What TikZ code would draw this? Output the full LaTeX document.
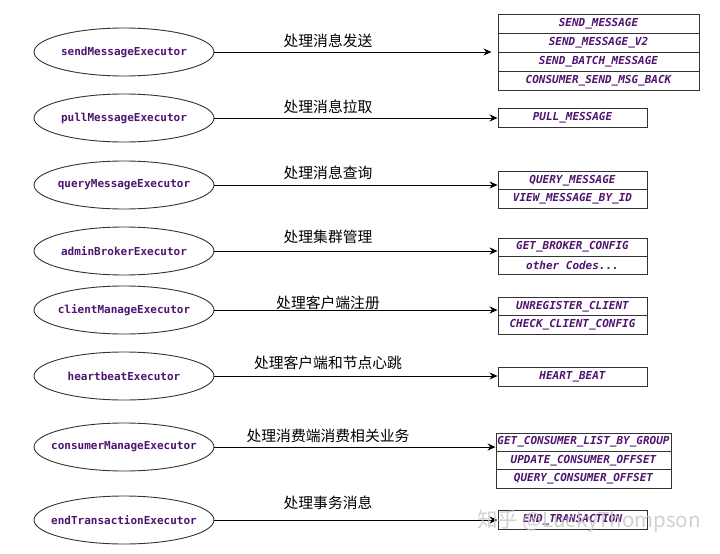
\documentclass[tikz,border=0pt]{standalone}
\usepackage{fontspec}
\setmonofont{DejaVu Sans Mono}
\newfontfamily\cjk{Noto Sans CJK SC}
\usetikzlibrary{arrows.meta,shapes.geometric}
\definecolor{codepurple}{HTML}{4F1470}
\definecolor{edgegray}{HTML}{333333}
\newcommand{\fixw}[1]{\makebox[0pt][c]{#1}}
\begin{document}
\begin{tikzpicture}[x=1pt,y=-1pt,
  exec/.style={draw=edgegray, line width=0.9pt, ellipse, minimum width=180pt, minimum height=48pt, inner sep=0pt, font=\ttfamily\bfseries\fontsize{11}{13}\selectfont, text=codepurple},
  code/.style={draw=edgegray, line width=0.9pt, rectangle, inner sep=0pt, font=\ttfamily\bfseries\itshape\fontsize{11}{13}\selectfont, text=codepurple},
  wide/.style={code, minimum width=201pt},
  mid/.style={code, minimum width=175pt},
  narrow/.style={code, minimum width=149pt},
  lab/.style={font=\cjk\fontsize{14.8}{16}\selectfont, inner sep=0pt},
  conn/.style={draw=black, line width=1pt, -{Stealth[length=8pt,width=7pt]}}
]
\fill[white] (0,0) rectangle (720,554);
\useasboundingbox (0,0) rectangle (720,554);

% executors
\node[exec] (e1) at (124,52) {\fixw{sendMessageExecutor}};
\node[exec] (e2) at (124,118) {\fixw{pullMessageExecutor}};
\node[exec] (e3) at (124,185) {\fixw{queryMessageExecutor}};
\node[exec] (e4) at (124,251) {\fixw{adminBrokerExecutor}};
\node[exec] (e5) at (124,310) {\fixw{clientManageExecutor}};
\node[exec] (e6) at (124,376) {\fixw{heartbeatExecutor}};
\node[exec] (e7) at (124,447) {\fixw{consumerManageExecutor}};
\node[exec] (e8) at (124,520) {\fixw{endTransactionExecutor}};

% request code boxes
\node[wide, minimum height=19pt] (b1a) at (598.5,23.5) {SEND\_MESSAGE};
\node[wide, minimum height=19pt] (b1b) at (598.5,42.5) {SEND\_MESSAGE\_V2};
\node[wide, minimum height=19pt] (b1c) at (598.5,61.5) {SEND\_BATCH\_MESSAGE};
\node[wide, minimum height=19pt] (b1d) at (598.5,80.5) {CONSUMER\_SEND\_MSG\_BACK};

\node[narrow, minimum height=19pt] (b2a) at (572.5,117.5) {PULL\_MESSAGE};

\node[narrow, minimum height=18.5pt] (b3a) at (572.5,180.25) {QUERY\_MESSAGE};
\node[narrow, minimum height=18.5pt] (b3b) at (572.5,198.75) {VIEW\_MESSAGE\_BY\_ID};

\node[narrow, minimum height=18pt] (b4a) at (572.5,247) {GET\_BROKER\_CONFIG};
\node[narrow, minimum height=18pt] (b4b) at (572.5,265) {other Codes...};

\node[narrow, minimum height=18.5pt] (b5a) at (572.5,306.25) {UNREGISTER\_CLIENT};
\node[narrow, minimum height=18.5pt] (b5b) at (572.5,324.75) {CHECK\_CLIENT\_CONFIG};

\node[narrow, minimum height=19pt] (b6a) at (572.5,376.5) {HEART\_BEAT};

\node[mid, minimum height=18.33pt] (b7a) at (583.5,442.2) {GET\_CONSUMER\_LIST\_BY\_GROUP};
\node[mid, minimum height=18.33pt] (b7b) at (583.5,460.5) {UPDATE\_CONSUMER\_OFFSET};
\node[mid, minimum height=18.33pt] (b7c) at (583.5,478.8) {QUERY\_CONSUMER\_OFFSET};

\node[narrow, minimum height=19pt] (b8a) at (572.5,519.5) {END\_TRANSACTION};

% connectors
\coordinate (t1) at ([xshift=-6pt]e1.east -| b1a.west);
\draw[conn] (e1.east) -- (t1);
\draw[conn] (e2.east) -- (e2.east -| b2a.west);
\draw[conn] (e3.east) -- (e3.east -| b3a.west);
\draw[conn] (e4.east) -- (e4.east -| b4a.west);
\draw[conn] (e5.east) -- (e5.east -| b5a.west);
\draw[conn] (e6.east) -- (e6.east -| b6a.west);
\draw[conn] (e7.east) -- (e7.east -| b7a.west);
\draw[conn] (e8.east) -- (e8.east -| b8a.west);

% labels
\node[lab] (l1) at (328,41) {处理消息发送};
\node[lab] (l2) at (328,107) {处理消息拉取};
\node[lab] (l3) at (328,173) {处理消息查询};
\node[lab] (l4) at (328,237) {处理集群管理};
\node[lab] (l5) at (328,303) {处理客户端注册};
\node[lab] (l6) at (328,363) {处理客户端和节点心跳};
\node[lab] (l7) at (328,436) {处理消费端消费相关业务};
\node[lab] (l8) at (328,503) {处理事务消息};

% watermark
\node[font=\cjk\fontsize{20.5}{22}\selectfont, text=gray!45, opacity=0.8, inner sep=0pt, anchor=west] (wm) at (477,521) {知乎 @LuckyThompson};
\end{tikzpicture}
\end{document}
